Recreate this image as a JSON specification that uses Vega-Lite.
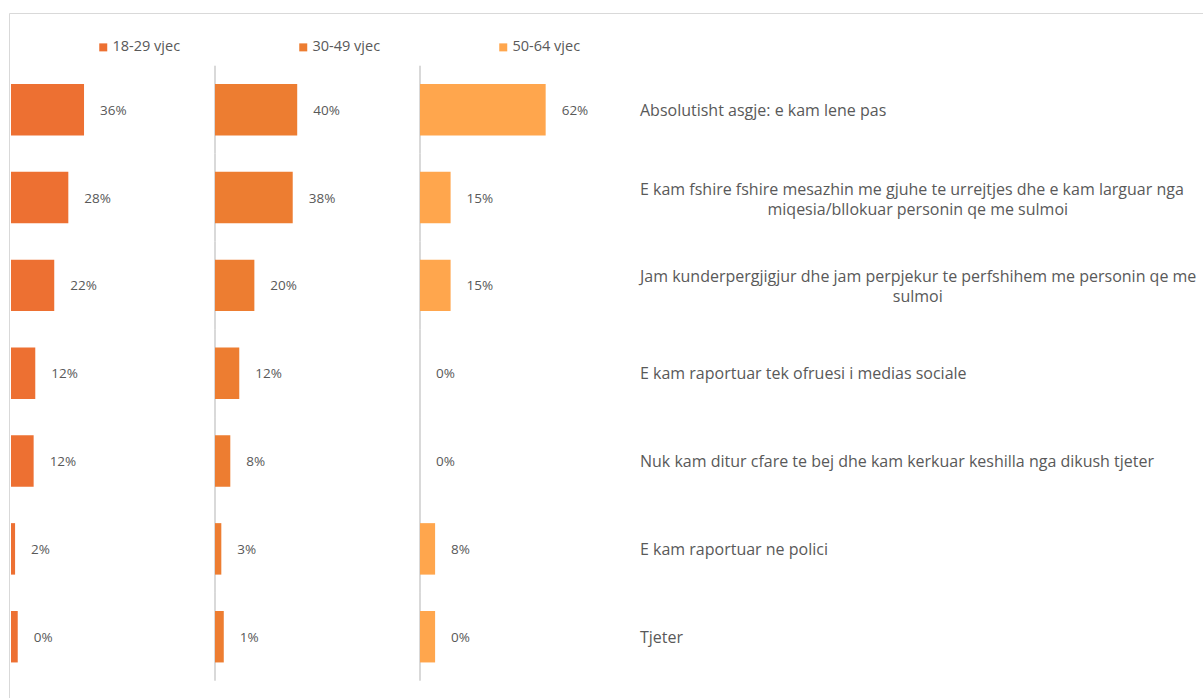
{
  "$schema": "https://vega.github.io/schema/vega-lite/v6.json",
  "width": 1196,
  "height": 688,
  "autosize": {"type": "none"},
  "padding": {"left": 9, "top": 13, "right": -2, "bottom": -3},
  "background": "white",
  "config": {
    "view": {"stroke": "#d9d9d9", "strokeWidth": 1},
    "font": "Open Sans",
    "text": {"font": "Open Sans", "color": "#595959", "fontSize": 13.5}
  },
  "datasets": {
    "bars": [
      {"k": "A", "g": "18-29 vjec", "v": 35.8, "t": "36%"},
      {"k": "B", "g": "18-29 vjec", "v": 28.1, "t": "28%"},
      {"k": "C", "g": "18-29 vjec", "v": 21.2, "t": "22%"},
      {"k": "D", "g": "18-29 vjec", "v": 11.9, "t": "12%"},
      {"k": "E", "g": "18-29 vjec", "v": 11.1, "t": "12%"},
      {"k": "F", "g": "18-29 vjec", "v": 2.0, "t": "2%"},
      {"k": "G", "g": "18-29 vjec", "v": 3.3, "t": "0%"},
      {"k": "A", "g": "30-49 vjec", "v": 40.3, "t": "40%"},
      {"k": "B", "g": "30-49 vjec", "v": 38.1, "t": "38%"},
      {"k": "C", "g": "30-49 vjec", "v": 19.3, "t": "20%"},
      {"k": "D", "g": "30-49 vjec", "v": 11.9, "t": "12%"},
      {"k": "E", "g": "30-49 vjec", "v": 7.5, "t": "8%"},
      {"k": "F", "g": "30-49 vjec", "v": 3.1, "t": "3%"},
      {"k": "G", "g": "30-49 vjec", "v": 4.3, "t": "1%"},
      {"k": "A", "g": "50-64 vjec", "v": 61.6, "t": "62%"},
      {"k": "B", "g": "50-64 vjec", "v": 15.0, "t": "15%"},
      {"k": "C", "g": "50-64 vjec", "v": 15.0, "t": "15%"},
      {"k": "D", "g": "50-64 vjec", "v": 0, "t": "0%"},
      {"k": "E", "g": "50-64 vjec", "v": 0, "t": "0%"},
      {"k": "F", "g": "50-64 vjec", "v": 7.4, "t": "8%"},
      {"k": "G", "g": "50-64 vjec", "v": 7.4, "t": "0%"}
    ],
    "cats": [
      {"k": "A", "line1": "Absolutisht asgje: e kam lene pas", "line2": ""},
      {"k": "B", "line1": "E kam fshire fshire mesazhin me gjuhe te urrejtjes dhe e kam larguar nga", "line2": "miqesia/bllokuar personin qe me sulmoi"},
      {"k": "C", "line1": "Jam kunderpergjigjur dhe jam perpjekur te perfshihem me personin qe me", "line2": "sulmoi"},
      {"k": "D", "line1": "E kam raportuar tek ofruesi i medias sociale", "line2": ""},
      {"k": "E", "line1": "Nuk kam ditur cfare te bej dhe kam kerkuar keshilla nga dikush tjeter", "line2": ""},
      {"k": "F", "line1": "E kam raportuar ne polici", "line2": ""},
      {"k": "G", "line1": "Tjeter", "line2": ""}
    ]
  },
  "layer": [
    {
      "data": {"name": "bars"},
      "transform": [{"filter": "datum.g === '18-29 vjec'"}],
      "layer": [
        {
          "mark": {"type": "bar"},
          "encoding": {
            "y": {"field": "k", "type": "nominal", "axis": null, "scale": {"domain": ["A", "B", "C", "D", "E", "F", "G"], "paddingInner": 0.414, "paddingOuter": 0.6235, "align": 0.648}},
            "x": {"field": "v", "type": "quantitative", "axis": null, "scale": {"domain": [-0.98, 585.3], "nice": false, "zero": false}},
            "x2": {"datum": 0},
            "color": {
              "field": "g", "type": "nominal",
              "scale": {"domain": ["18-29 vjec", "30-49 vjec", "50-64 vjec"], "range": ["#ED7032", "#ED7D31", "#FFA64D"]},
              "legend": {"orient": "none", "legendX": 87, "legendY": 27, "direction": "horizontal", "title": null, "symbolType": "square", "symbolSize": 64, "symbolStrokeWidth": 0, "labelFontSize": 14.5, "labelColor": "#595959", "labelFont": "Open Sans", "columnPadding": 115, "labelOffset": 2, "padding": 0}
            }
          }
        },
        {
          "mark": {"type": "text", "align": "left", "baseline": "middle", "dx": 16, "dy": 1},
          "encoding": {
            "y": {"field": "k", "type": "nominal"},
            "x": {"field": "v", "type": "quantitative"},
            "text": {"field": "t"}
          }
        }
      ]
    },
    {
      "data": {"name": "bars"},
      "transform": [{"filter": "datum.g === '30-49 vjec'"}],
      "layer": [
        {
          "mark": {"type": "tick", "color": "#d9d9d9", "thickness": 2, "size": 88, "opacity": 1},
          "encoding": {
            "y": {"field": "k", "type": "nominal"},
            "x": {"datum": 0, "type": "quantitative", "axis": null, "scale": {"domain": [-100.98, 485.3], "nice": false, "zero": false}}
          }
        },
        {
          "mark": {"type": "bar"},
          "encoding": {
            "y": {"field": "k", "type": "nominal"},
            "x": {"field": "v", "type": "quantitative"},
            "x2": {"datum": 0},
            "color": {"field": "g", "type": "nominal"}
          }
        },
        {
          "mark": {"type": "text", "align": "left", "baseline": "middle", "dx": 16, "dy": 1},
          "encoding": {
            "y": {"field": "k", "type": "nominal"},
            "x": {"field": "v", "type": "quantitative"},
            "text": {"field": "t"}
          }
        }
      ]
    },
    {
      "layer": [
        {
          "data": {"name": "bars"},
          "transform": [{"filter": "datum.g === '50-64 vjec'"}],
          "mark": {"type": "tick", "color": "#d9d9d9", "thickness": 2, "size": 88, "opacity": 1},
          "encoding": {
            "y": {"field": "k", "type": "nominal"},
            "x": {"datum": 0, "type": "quantitative", "axis": null, "scale": {"domain": [-201.47, 384.8], "nice": false, "zero": false}}
          }
        },
        {
          "data": {"name": "bars"},
          "transform": [{"filter": "datum.g === '50-64 vjec'"}],
          "mark": {"type": "bar"},
          "encoding": {
            "y": {"field": "k", "type": "nominal"},
            "x": {"field": "v", "type": "quantitative"},
            "x2": {"datum": 0},
            "color": {"field": "g", "type": "nominal"}
          }
        },
        {
          "data": {"name": "bars"},
          "transform": [{"filter": "datum.g === '50-64 vjec'"}],
          "mark": {"type": "text", "align": "left", "baseline": "middle", "dx": 16, "dy": 1},
          "encoding": {
            "y": {"field": "k", "type": "nominal"},
            "x": {"field": "v", "type": "quantitative"},
            "text": {"field": "t"}
          }
        },
        {
          "data": {"name": "cats"},
          "transform": [{"filter": "datum.line2 === ''"}],
          "mark": {"type": "text", "align": "left", "baseline": "middle", "fontSize": 16, "dy": 1},
          "encoding": {
            "y": {"field": "k", "type": "nominal"},
            "x": {"datum": 107.84, "type": "quantitative"},
            "text": {"field": "line1"}
          }
        },
        {
          "data": {"name": "cats"},
          "transform": [{"filter": "datum.line2 !== ''"}],
          "mark": {"type": "text", "align": "left", "baseline": "middle", "fontSize": 16, "dy": -8},
          "encoding": {
            "y": {"field": "k", "type": "nominal"},
            "x": {"datum": 107.84, "type": "quantitative"},
            "text": {"field": "line1"}
          }
        },
        {
          "data": {"name": "cats"},
          "transform": [{"filter": "datum.line2 !== ''"}],
          "mark": {"type": "text", "align": "center", "baseline": "middle", "fontSize": 16, "dy": 12},
          "encoding": {
            "y": {"field": "k", "type": "nominal"},
            "x": {"datum": 244, "type": "quantitative"},
            "text": {"field": "line2"}
          }
        }
      ]
    }
  ],
  "resolve": {"scale": {"x": "independent"}}
}
